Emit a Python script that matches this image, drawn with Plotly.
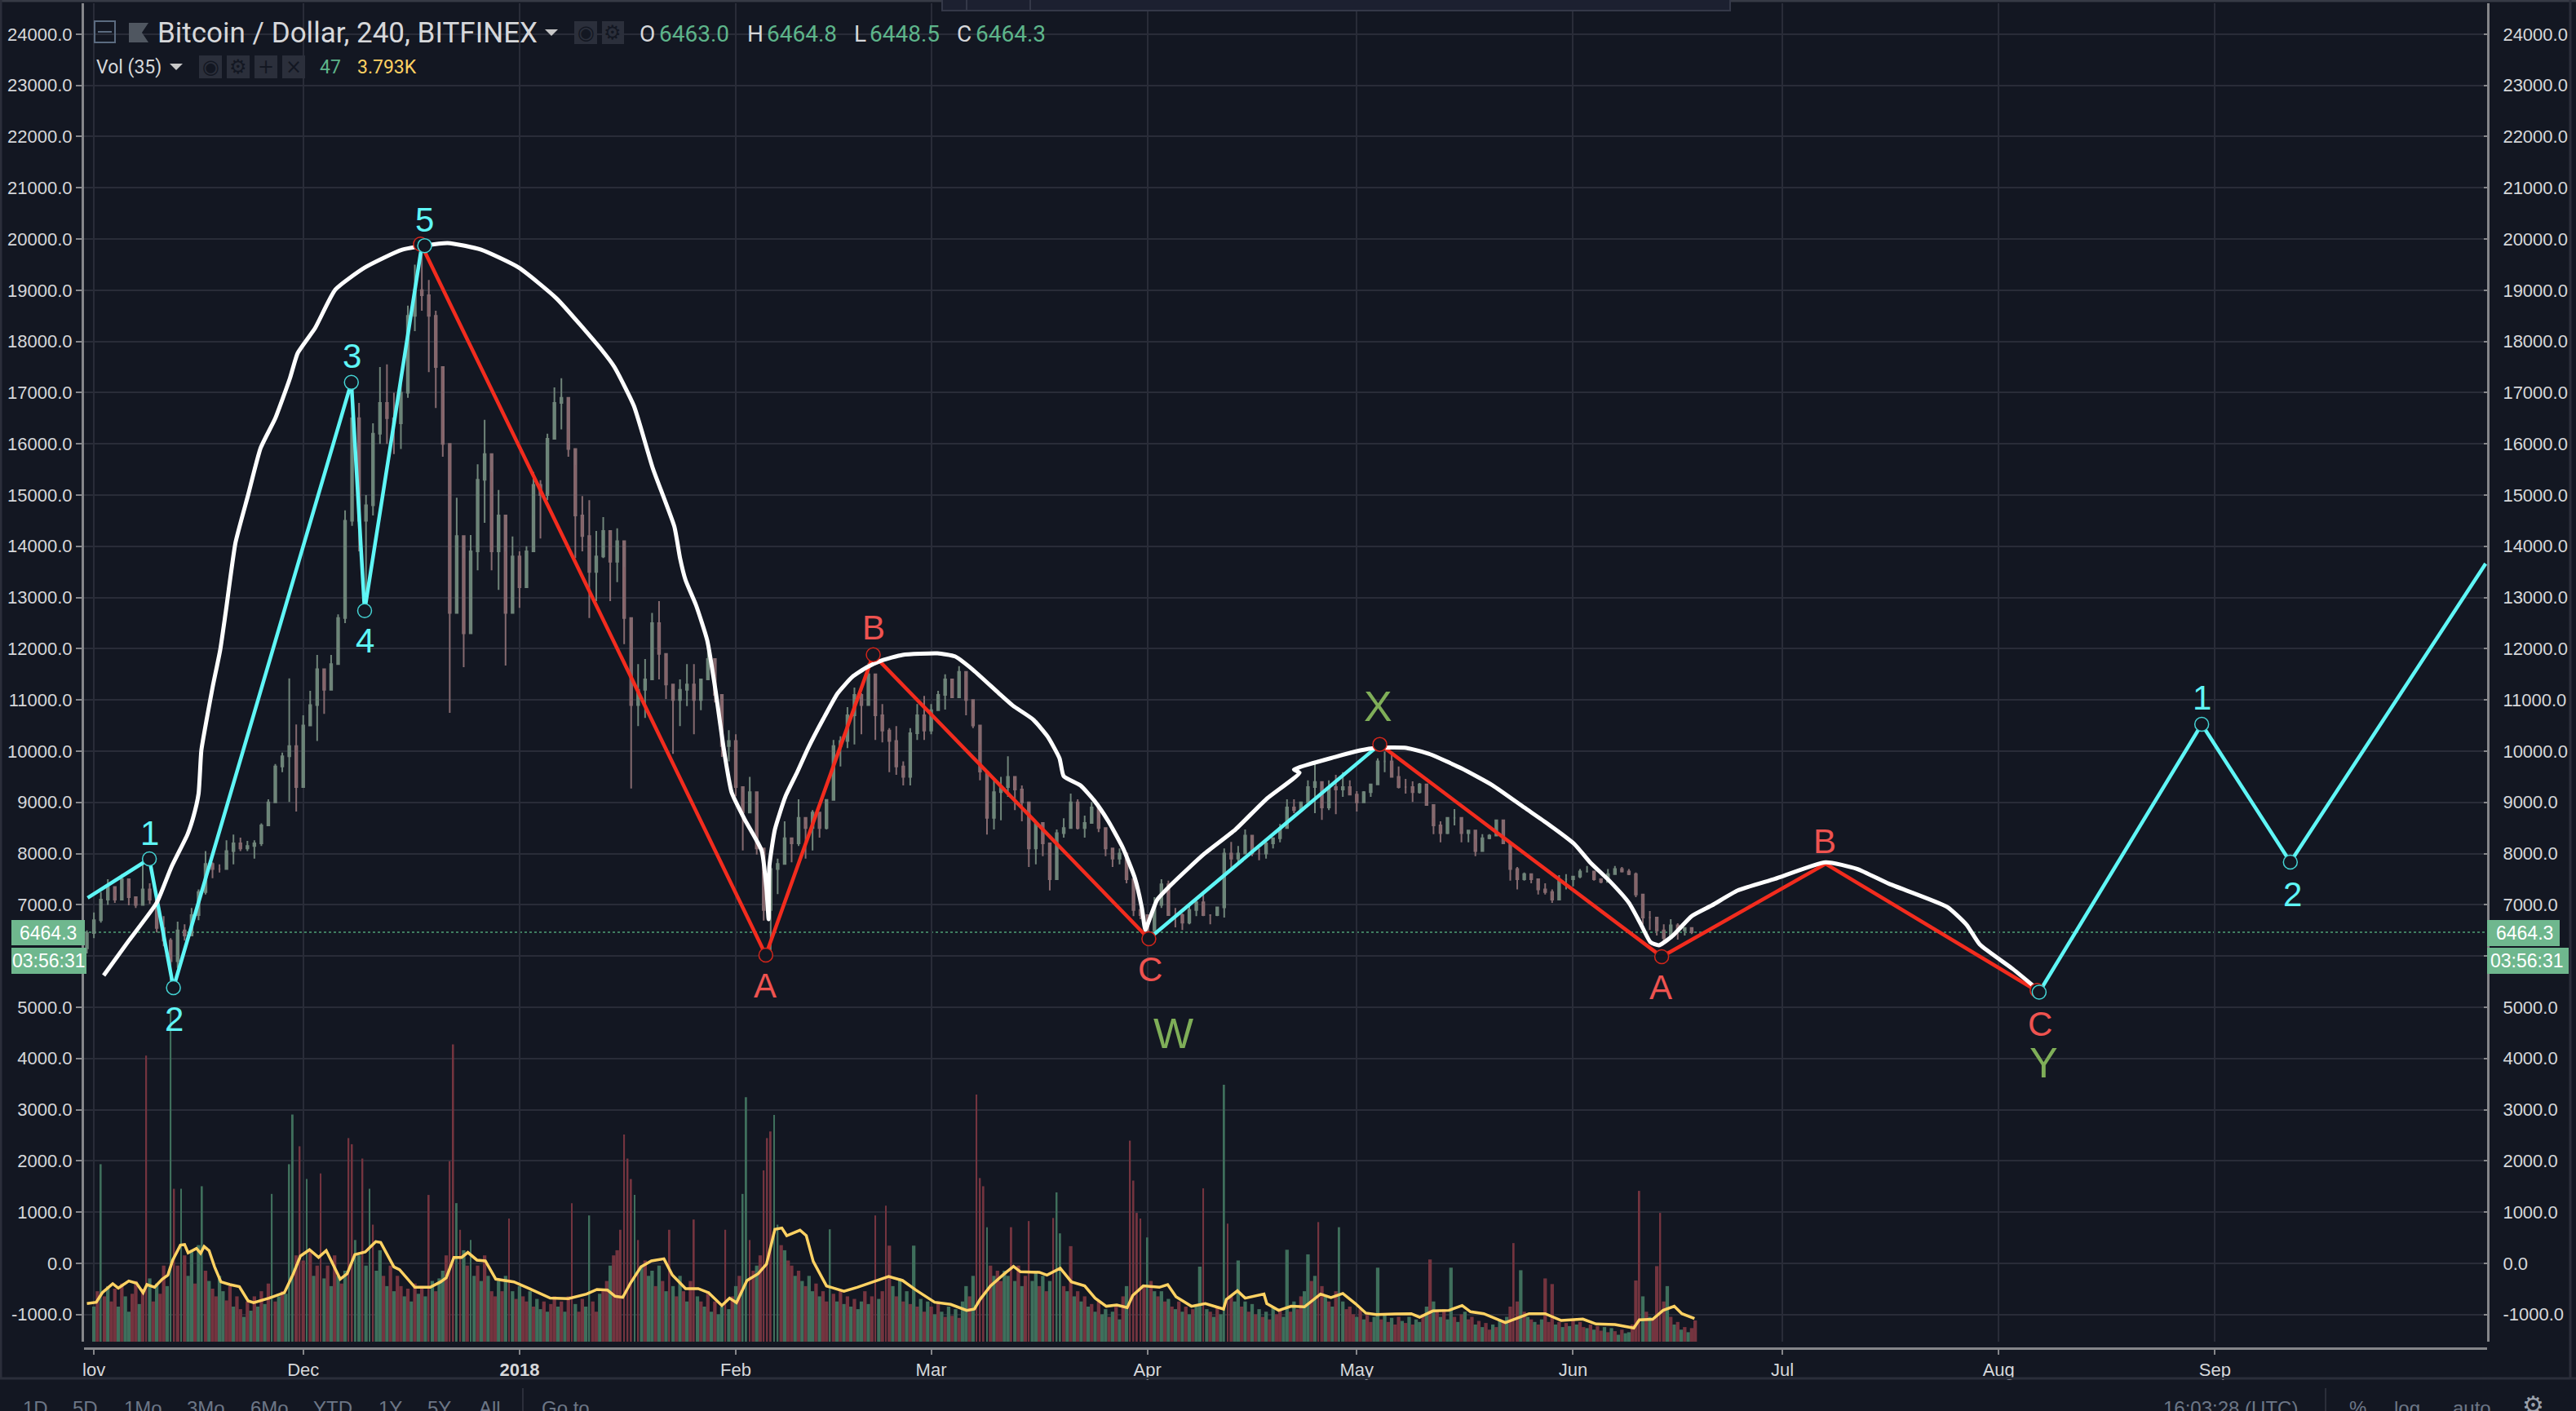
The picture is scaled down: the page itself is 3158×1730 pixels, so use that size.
import pandas as pd
import plotly.graph_objects as go

# Candles, one per day from 31 Oct 2017
candle_start = "2017-10-31"
highs = [6500,
    6850,7250,7500,7310,7600,7360,7150,7790,7420,7150,
    6780,6350,6670,6620,6940,7300,8050,7830,7790,8260,
    8370,8310,8250,8260,8590,9060,9750,9970,11420,10520,
    10700,11180,11880,11600,11880,12670,14700,17200,16800,15000,
    16400,17500,17550,17000,17200,18700,19500,19900,19200,18600,
    17500,16000,14950,13770,14220,15600,16470,15450,15100,13900,
    14190,13900,14000,15450,15290,16200,17100,17280,16280,15590,
    14980,14900,14300,14570,14300,14350,13600,12100,11700,11800,
    12700,12930,11860,11000,11400,11700,11700,11400,12020,11700,
    11020,10410,10330,9200,9500,9200,8060,7750,7900,8630,
    8310,9060,8580,8850,8790,9060,10220,10290,10860,11240,
    11130,11720,11130,10920,10450,10490,9800,10450,10920,11080,
    10920,11180,11500,11400,11660,11450,10860,10130,9540,9430,
    9500,9900,9490,9330,8580,8580,8470,7950,8470,8690,
    9170,9060,8740,9010,8690,8470,8100,8100,7790,7260,
    7200,6780,7150,7500,7470,6940,6830,6990,7150,7200,
    6800,6940,8100,8230,8150,8470,8150,8100,8260,8310,
    8580,9060,9060,9010,9430,9750,9270,9430,9540,9590,
    9430,9220,9220,9330,9860,9990,9970,9700,9460,9410,
    9380,9330,8690,8630,8690,8870,8470,8440,8280,8380,
    8380,8630,8440,7990,7740,7630,7570,7420,7420,7300,
    7580,7600,7520,7700,7760,7630,7520,7700,7760,7740,
    7700,7630,7200,6880,6620,6620,6720,6640,6560,6540]
lows = [6050,
    6350,6650,7000,7040,7360,6990,6940,7020,7020,6460,
    6190,5500,5770,6300,6460,6700,7200,7520,7630,7900,
    7790,8050,8050,7900,8150,8690,9270,9590,9010,8820,
    9430,10600,10200,10730,11450,12200,12500,14400,13900,12800,
    14600,16000,16000,15800,15900,16900,18200,18600,17400,16700,
    15750,10750,13080,11640,13080,13530,14460,13530,13150,11670,
    12770,12800,13230,14600,14150,14900,16280,16280,15750,13770,
    13900,12600,12930,13770,12930,13300,12090,9270,10490,10650,
    11560,11400,11020,9950,10490,10880,10330,10800,11400,10950,
    9890,9800,9120,8060,9040,7980,6690,6070,7210,7790,
    7830,8150,7900,8060,8310,8470,9060,9700,10060,10130,
    10330,11130,10220,10170,9590,9540,9330,9330,10220,10220,
    10330,10810,10810,11080,11180,10700,10450,9430,8370,8470,
    8650,9110,8850,8630,7740,7790,7950,7280,8100,8310,
    8850,8470,8310,8690,8420,7950,7740,7790,7420,6780,
    6720,6400,6460,6940,6880,6560,6510,6620,6780,6780,
    6620,6780,6750,7680,7830,8000,7950,7870,7900,8100,
    8220,8580,8790,8850,9060,8790,8660,8850,8770,9110,
    9170,8820,9010,9110,9430,9590,9590,9270,9170,9010,
    9170,8950,8380,8220,8380,8550,8220,8220,7950,8220,
    8280,8380,8220,7470,7300,7470,7420,7200,7200,7040,
    7300,7300,7360,7520,7630,7470,7420,7520,7630,7630,
    7580,7150,6620,6510,6400,6300,6400,6320,6400,6430]
closes = [6450,
    6700,7100,7350,7100,7500,7150,7000,7300,7100,6550,
    6300,5900,6500,6400,6800,7250,7800,7700,7700,8050,
    8200,8100,8150,8200,8550,9000,9700,9900,10100,9300,
    10500,10900,11600,11200,11700,12600,14500,16500,14500,14800,
    16200,16800,16500,16400,17000,18500,19000,18900,18500,17500,
    16000,12700,14200,12300,13900,15300,15800,13900,14600,12700,
    13800,13200,13900,15200,15000,16100,16800,16900,15900,14600,
    14200,13500,13800,14300,13700,14100,12600,10900,11200,11400,
    12500,11900,11300,11000,11200,11300,11000,11400,11800,11100,
    10100,10200,9300,8800,9200,8100,6900,7700,7800,8300,
    8200,8700,8500,8800,8500,9050,10100,10200,10700,11100,
    10900,11500,10700,10400,10200,9700,9500,10350,10700,10400,
    10800,11100,11400,11050,11550,11000,10500,9600,8700,9200,
    9300,9500,9250,9000,8100,8600,8200,7500,8400,8500,
    9000,8500,8600,8900,8500,8100,7900,8000,7500,6900,
    6800,6500,7000,7400,6800,6800,6650,6900,7050,6800,
    6800,6950,8000,7900,8000,8350,8000,8000,8200,8300,
    8500,8900,8850,9000,9300,9400,8900,9300,9250,9300,
    9150,9000,9200,9350,9800,9800,9500,9300,9300,9200,
    9350,8950,8550,8400,8700,8700,8400,8450,8050,8300,
    8350,8650,8200,7700,7500,7600,7500,7300,7250,7100,
    7500,7500,7550,7650,7650,7500,7450,7600,7700,7650,
    7600,7200,6750,6750,6500,6350,6600,6500,6550,6464.3]
opens = [6150] + closes[:-1]

# Volume bars, two per day from 1 Nov 2017 (height above the bottom of the pane)
vol_start = "2017-11-01"
vol_heights = [
    700,1000,3480,900,1100,800,1050,700,1150,900,600,950,1200,750,1050,5600,1250,800,1150,950,
    1500,1100,6500,3000,1500,3000,1700,1300,1800,1150,1900,3050,1400,1200,1050,900,1300,1000,820,1100,
    700,900,650,500,800,620,900,700,1000,750,1150,2900,800,900,1000,950,3480,4450,1700,3830,
    1600,3190,1800,1300,1500,3300,1250,1500,1100,1700,1300,1150,1400,3990,3870,2000,1700,3590,1500,3000,
    2300,1400,1800,1300,1100,1500,1000,1300,1100,900,1050,800,1150,950,1100,900,2880,1200,1000,1250,
    1400,1700,3540,5820,2720,2200,1800,1500,2000,1300,1500,1200,1700,1300,1000,900,1200,1000,1300,2420,
    1000,850,1100,900,800,1000,700,850,650,800,600,750,900,700,800,600,900,2720,750,600,
    850,700,2480,800,600,950,1000,1200,1500,1700,1800,2200,4060,3590,3190,2880,2000,1500,1600,1300,
    1400,1100,1500,1200,1000,2200,1100,900,1300,1000,800,1200,2400,900,800,700,1000,600,800,550,
    700,2200,650,900,1100,1300,2900,4790,2000,1400,1500,1700,3360,3990,4120,4440,2300,1900,1800,1600,
    1500,1300,1400,1200,1100,1300,1000,1150,900,1000,800,2210,950,800,1000,750,900,700,850,650,
    800,1000,750,900,2480,850,1000,2670,1890,1100,900,1250,800,1000,750,1890,700,850,600,800,
    700,550,800,600,500,700,520,650,480,800,1100,900,1300,4840,3210,3050,2250,1500,1300,1400,
    1200,1400,1300,2250,1200,1500,1100,1300,2370,1200,1400,1100,1300,1000,1200,2430,2930,2130,1100,1000,
    1880,900,1000,800,900,700,750,600,800,550,650,500,600,700,450,900,1100,3940,3160,2530,
    2420,1100,2050,1200,1000,900,1000,800,850,700,650,800,600,700,550,650,750,1480,3010,650,
    600,500,700,550,5030,2320,900,800,1600,700,800,600,750,550,650,500,600,450,700,550,
    650,500,1810,600,800,650,900,1000,1720,1200,1300,2350,1100,900,800,700,1000,2250,800,650,
    700,550,500,650,450,550,400,500,1460,450,550,400,480,350,500,420,380,500,350,450,
    400,550,700,1620,800,600,500,650,450,1460,500,400,550,600,450,500,350,420,300,380,
    250,350,300,450,400,500,700,1940,800,1410,600,500,450,400,350,450,1250,400,1140,350,
    400,300,380,320,450,350,400,300,280,350,250,320,230,300,200,280,220,150,250,180,
    200,350,1210,2960,900,600,500,450,1490,2530,800,1100,500,350,400,250,300,200,280,430]
vol_dirs = ("grgrgrrgrggrrgrrgrgr" "rggrrgrggrggrgrrggrr" "grrgrgrgrgrgrgrgggrr" "rgrgrrgrgrgrgrrggrgg"
            "rggrgrgrrgrgrgrgrgrg" "grrrgrgrggrgrgrrgrgr" "grgrrgrggrgrrgrgrrgr" "rggrrgrrgrrrrrrgrgrg"
            "grgrgrgrgrgrrgrgrgrg" "grgrgrggrrgrrrrggrgr" "rgrgrggrgrrgrgrgrgrg" "grgrrgrrrgrgrgrgrgrg"
            "rgrgrgrgrggrgrrrgrgr" "rggrgrgrrggrgrgrggrg" "rgrgrgrgrggrgrgrgrrr" "rrgrgrgrgrgrgrgrggrg"
            "rgrggrrggrgrgrgrgrgr" "rggrgrrggrgrrgrgrggr" "rrgrgrrggrgrgrrgrgrg" "grgrgrgrggrgrgrrgrgr"
            "rgrgrgrrrgrgrgrgrrrg" "rgrgrgrrgrgrrgrgrgrg" "grrrgrgrrrrgrgrgrgrr")

# Vol (35) average, day = days since 1 Nov 2017
ma_days = [-1,0.34,1.2,2.7,3.5,5,6.1,7.05,7.6,8.7,9.8,10.6,11.3,12.4,13,13.5,14.7,15.3,15.8,16.5,17.3,18.2,
    19.5,20.85,22.1,22.9,25.1,27.3,28.5,29.6,30.9,32.2,33.3,34.1,35.3,36.3,37.4,38.9,40.4,41.1,43,43.8,46,
    48.2,49.7,50.5,51.6,52.7,53.6,54.9,56.1,57.6,60.2,62.4,65.4,68,70.6,72.1,73.6,74.7,75.8,76.9,78.4,79.9,
    81.7,82.9,84.8,86.6,88.1,90,91.1,92.1,93.6,95.2,96.4,97.6,98.6,99.3,101.2,102.1,103.1,105,107.5,109.4,
    111.6,113.9,115.9,117.8,120.5,122.8,125.1,126.2,127,128.5,130.5,131.8,132.8,135.5,136.6,138.5,140.1,142,
    143.5,145.1,146.6,148.1,148.9,150.4,152.7,153.9,155.1,157.3,159.3,161.9,162.3,163.9,165,167.7,168.1,
    169.8,171.6,173.5,175.8,177.3,179,180.8,182.3,183.8,186.5,188.8,190,191.9,194.2,196.1,197.3,199.2,202.3,
    205.7,208,210.3,213.4,215.3,218,220.7,221.5,223.4,224.9,226.5,227.6,229.4]
ma_values = [-785,-760,-573,-398,-483,-345,-387,-573,-414,-467,-308,-228,64,356,367,207,292,197,329,250,-69,-361,
    -414,-456,-732,-769,-679,-573,-228,143,266,117,250,37,-308,-202,170,223,425,409,-69,-122,-467,
    -467,-361,-281,117,117,213,64,48,-308,-361,-493,-679,-690,-600,-509,-520,-642,-663,-387,-69,48,
    90,-228,-493,-493,-573,-823,-679,-769,-334,-202,-16,664,690,541,648,541,37,-441,-546,-467,
    -361,-255,-334,-520,-759,-801,-918,-892,-706,-440,-202,-58,-164,-175,-228,-95,-361,-440,
    -679,-838,-812,-865,-626,-440,-467,-414,-653,-838,-785,-892,-706,-536,-679,-600,-785,
    -918,-838,-849,-600,-669,-589,-785,-971,-998,-987,-982,-1051,-929,-918,-823,-945,-982,-1157,
    -982,-982,-1115,-1088,-1184,-1194,-1263,-1104,-1093,-918,-838,-982,-1077]

# Hand drawn wave legs
cyan_legs = [([-0.9,7.95,11.4,36.9,38.8,47], [7134,7898,5382,17200,12744,19870]),
             ([151.2,184.3], [6338,10133]),
             ([278.8,302.1,314.8,342.8], [5295,10525,7834,13662])]
red_legs = [([47,96.3,111.7,151.2], [19870,6019,11884,6338]),
            ([184.3,224.7,248.2,278.8], [10133,5987,7800,5295])]
cyan_dots_days = [7.95,11.4,36.9,38.8,47.4,278.8,302.1,314.8]
cyan_dots_values = [7898,5382,17200,12744,19870,5295,10525,7834]
red_dots_days = [46.8,96.3,111.7,151.2,184.3,224.7,278.5]
red_dots_values = [19900,6019,11884,6338,10133,5987,5330]

# White freehand curve
curve_days = [1.4,5,9,11.1,13.4,14.2,15,15.4,16.2,17,18.1,18.9,20.3,22.1,23.9,26,28.1,29.2,31.7,34.6,38.8,44.2,
    50.7,55.5,60.9,66.3,72.8,74.6,77.4,80.1,83.2,84,84.8,86.3,87.9,89.1,90.2,91.4,93.3,95.7,96.4,96.7,96.8,
    97.6,99.1,100.8,102.4,104.5,106.6,108.7,110.8,112.9,115.9,120.9,123.4,125.8,129.7,131.7,134.6,136.7,138.4,
    139,141.4,143.4,145.4,147.5,149.2,150.2,150.7,151.3,152.4,154.6,159.1,163.6,168,172.8,172,178,181.5,183.7,
    188.1,191.5,196,200.5,205,208.4,212.2,214.4,217.2,220,221.7,223.1,224.3,226.3,229,231.9,235.6,240.9,248.2,
    252.7,257.3,265.6,268.4,270.3,275,278.7]
curve_values = [5621,6300,7040,7736,8370,8690,9170,10015,10650,11240,11975,12720,14075,15000,15920,16500,17280,
    17770,18260,19010,19440,19790,19920,19790,19440,18840,17830,17500,16740,15525,14380,13775,13340,12850,12165,
    11180,10110,9195,8660,8060,7300,6720,7740,8470,9110,9590,10070,10620,11130,11450,11640,11770,11880,11910,
    11850,11610,11130,10890,10620,10285,9860,9510,9330,9030,8630,8105,7520,6940,6510,6720,7100,7420,7990,8470,
    9060,9580,9640,9890,10015,10065,10065,9940,9665,9330,8900,8580,8185,7835,7470,7040,6625,6270,6210,6400,6780,
    6990,7280,7505,7830,7700,7410,6960,6610,6225,5750,5335]

last_price = 6464.3

# Axes (the 6000 label is hidden behind the price boxes in the original)
y_ticks = [24000,23000,22000,21000,20000,19000,18000,17000,16000,15000,14000,13000,12000,11000,10000,
           9000,8000,7000,6000,5000,4000,3000,2000,1000,0,-1000]
y_labels = ["24000.0","23000.0","22000.0","21000.0","20000.0","19000.0","18000.0","17000.0","16000.0","15000.0",
            "14000.0","13000.0","12000.0","11000.0","10000.0","9000.0","8000.0","7000.0","","5000.0",
            "4000.0","3000.0","2000.0","1000.0","0.0","-1000.0"]
x_ticks = ["2017-11-01","2017-12-01","2018-01-01","2018-02-01","2018-03-01","2018-04-01","2018-05-01",
           "2018-06-01","2018-07-01","2018-08-01","2018-09-01"]
x_labels = ["lov","Dec","<b>2018</b>","Feb","Mar","Apr","May","Jun","Jul","Aug","Sep"]

# Colours
BG = "#131722"
GRID = "#292c38"
AXIS = "#85868a"
TEXT = "#d6d7da"
CYAN = "#5ff6f6"
RED = "#f22c1e"
LABEL_RED = "#ef5350"
LABEL_GREEN = "#7fae58"
YELLOW = "#ffd263"
GREEN = "#6fb78e"
VALUE_GREEN = "#5db48a"
MUTED = "#6c7686"
BUTTON = "#2b2f3b"

W, H = 3158, 1730
L, R, T, B = 103, 3049, 4, 1653
DAY_MS = 86400000


def to_dates(days):
    return pd.Timestamp("2017-11-01") + pd.to_timedelta(days, unit="D")


def px(x):
    return (x - L) / (R - L)


def py(y):
    return (B - y) / (B - T)


fig = go.Figure()

# tall spikes are hairlines in the original, the low bars run together
fig.add_trace(go.Bar(
    x=pd.date_range(vol_start, periods=len(vol_heights), freq="12h"),
    y=vol_heights, base=-1544,
    width=[0.22 * DAY_MS if h > 1900 else 0.5 * DAY_MS for h in vol_heights],
    marker=dict(color=["#3f6f5c" if d == "g" else "#74343f" for d in vol_dirs], line_width=0),
    hoverinfo="skip"))

fig.add_trace(go.Scatter(x=to_dates(ma_days), y=ma_values, mode="lines",
                         line=dict(color=YELLOW, width=3.5), hoverinfo="skip"))

fig.add_trace(go.Candlestick(
    x=pd.date_range(candle_start, periods=len(closes), freq="D"),
    open=opens, high=highs, low=lows, close=closes,
    whiskerwidth=0,
    increasing=dict(line=dict(color="#6f8479", width=2), fillcolor="#5b8a75"),
    decreasing=dict(line=dict(color="#856a6f", width=2), fillcolor="#8a4e56"),
    hoverinfo="skip"))

for days, values in red_legs:
    fig.add_trace(go.Scatter(x=to_dates(days), y=values, mode="lines",
                             line=dict(color=RED, width=4.5), hoverinfo="skip"))
for days, values in cyan_legs:
    fig.add_trace(go.Scatter(x=to_dates(days), y=values, mode="lines",
                             line=dict(color=CYAN, width=4.5), hoverinfo="skip"))

fig.add_trace(go.Scatter(x=to_dates(curve_days), y=curve_values, mode="lines",
                         line=dict(color="#ffffff", width=5, shape="spline", smoothing=0.5), hoverinfo="skip"))

fig.add_trace(go.Scatter(x=to_dates(red_dots_days), y=red_dots_values, mode="markers",
                         marker=dict(size=17, color=BG, line=dict(color="#d3261b", width=1.5)), hoverinfo="skip"))
fig.add_trace(go.Scatter(x=to_dates(cyan_dots_days), y=cyan_dots_values, mode="markers",
                         marker=dict(size=17, color=BG, line=dict(color="#45d4d4", width=1.5)), hoverinfo="skip"))

# needed so the right hand price axis gets drawn
fig.add_trace(go.Scatter(x=to_dates([0]), y=[0], yaxis="y2", mode="markers", opacity=0, hoverinfo="skip"))

shapes = [
    # last price line
    dict(type="line", xref="paper", yref="y", x0=0, x1=1, y0=last_price, y1=last_price,
         line=dict(color="#3f7d60", width=2, dash="dot"), layer="below"),
    # frame and toolbar separators
    dict(type="line", xref="paper", yref="paper", x0=px(0), x1=px(W), y0=py(1690), y1=py(1690),
         line=dict(color="#2b2e3a", width=3)),
    dict(type="line", xref="paper", yref="paper", x0=px(0), x1=px(W), y0=py(1), y1=py(1),
         line=dict(color="#363a45", width=3)),
    dict(type="line", xref="paper", yref="paper", x0=px(1), x1=px(1), y0=py(0), y1=py(1690),
         line=dict(color="#2b2e3a", width=3)),
    dict(type="line", xref="paper", yref="paper", x0=px(3151), x1=px(3151), y0=py(0), y1=py(1690),
         line=dict(color="#2b2e3a", width=3)),
    dict(type="line", xref="paper", yref="paper", x0=px(641), x1=px(641), y0=py(1702), y1=py(1730),
         line=dict(color="#2b2e3a", width=2)),
    dict(type="line", xref="paper", yref="paper", x0=px(2851), x1=px(2851), y0=py(1702), y1=py(1730),
         line=dict(color="#2b2e3a", width=2)),
    # drawing toolbar sticking in from the top
    dict(type="rect", xref="paper", yref="paper", x0=px(1155), x1=px(2121), y0=py(-2), y1=py(13),
         fillcolor="#1c2030", line=dict(color="#343848", width=2)),
    dict(type="line", xref="paper", yref="paper", x0=px(1185), x1=px(1185), y0=py(0), y1=py(13),
         line=dict(color="#343848", width=2)),
    dict(type="line", xref="paper", yref="paper", x0=px(1263), x1=px(1263), y0=py(0), y1=py(13),
         line=dict(color="#343848", width=2)),
    # price boxes
    dict(type="rect", xref="paper", yref="paper", x0=px(14), x1=px(104), y0=py(1128), y1=py(1159),
         fillcolor=GREEN, line_width=0),
    dict(type="rect", xref="paper", yref="paper", x0=px(14), x1=px(106), y0=py(1162), y1=py(1194),
         fillcolor=GREEN, line_width=0),
    dict(type="rect", xref="paper", yref="paper", x0=px(3049), x1=px(3138), y0=py(1128), y1=py(1160),
         fillcolor=GREEN, line_width=0),
    dict(type="rect", xref="paper", yref="paper", x0=px(3049), x1=px(3149), y0=py(1162), y1=py(1194),
         fillcolor=GREEN, line_width=0),
    # header collapse button
    dict(type="rect", xref="paper", yref="paper", x0=px(116), x1=px(141), y0=py(26), y1=py(52),
         line=dict(color="#5b6b80", width=2)),
    dict(type="line", xref="paper", yref="paper", x0=px(120), x1=px(137), y0=py(39), y1=py(39),
         line=dict(color="#5b6b80", width=2)),
]


def poly(points, color):
    path = "M " + " L ".join(f"{px(a):.5f},{py(b):.5f}" for a, b in points) + " Z"
    return dict(type="path", xref="paper", yref="paper", path=path, fillcolor=color, line_width=0)


shapes.append(poly([(158, 28), (182, 28), (174, 40), (182, 52), (158, 52)], "#4f5660"))
shapes.append(poly([(668, 36), (684, 36), (676, 44)], "#c8c8c8"))
shapes.append(poly([(208, 78), (224, 78), (216, 86)], "#c8c8c8"))
for x0, x1, y0, y1 in [(704, 732, 26, 54), (738, 765, 26, 54), (244, 272, 68, 96),
                       (278, 306, 68, 96), (312, 340, 68, 96), (346, 374, 68, 96)]:
    shapes.append(dict(type="rect", xref="paper", yref="paper", x0=px(x0), x1=px(x1), y0=py(y0), y1=py(y1),
                       fillcolor=BUTTON, line_width=0))

notes = []


def note(text, x, y, size, color, anchor="center", family="Liberation Sans"):
    notes.append(dict(text=text, x=px(x), y=py(y), xref="paper", yref="paper", showarrow=False,
                      xanchor=anchor, yanchor="middle", font=dict(family=family, size=size, color=color)))


# wave labels
for text, x, y in [("1", 183, 1021), ("2", 213, 1249), ("3", 431, 437), ("4", 447, 785), ("5", 520, 270),
                   ("1", 2699, 856), ("2", 2810, 1096)]:
    note(text, x, y, 42, CYAN)
for text, x, y in [("A", 938, 1208), ("B", 1071, 769), ("C", 1410, 1188), ("A", 2036, 1210),
                   ("B", 2237, 1031), ("C", 2501, 1255)]:
    note(text, x, y, 42, LABEL_RED)
for text, x, y in [("W", 1438, 1267), ("X", 1690, 866), ("Y", 2505, 1303)]:
    note(text, x, y, 52, LABEL_GREEN)

# header
note("Bitcoin / Dollar, 240, BITFINEX", 191, 40, 35, TEXT, "left", "Roboto")
note("O", 782, 41, 28, TEXT, "left", "Roboto")
note("6463.0", 806, 41, 28, VALUE_GREEN, "left", "Roboto")
note("H", 914, 41, 28, TEXT, "left", "Roboto")
note("6464.8", 938, 41, 28, VALUE_GREEN, "left", "Roboto")
note("L", 1045, 41, 28, TEXT, "left", "Roboto")
note("6448.5", 1064, 41, 28, VALUE_GREEN, "left", "Roboto")
note("C", 1171, 41, 28, TEXT, "left", "Roboto")
note("6464.3", 1194, 41, 28, VALUE_GREEN, "left", "Roboto")
note("Vol (35)", 116, 82, 23, TEXT, "left", "Roboto")
note("47", 390, 82, 23, VALUE_GREEN, "left", "Roboto")
note("3.793K", 436, 82, 23, YELLOW, "left", "Roboto")
for text, x, y in [("◉", 718, 40), ("⚙", 751, 40), ("◉", 258, 82), ("⚙", 292, 82), ("+", 326, 82), ("×", 360, 82)]:
    note(text, x, y, 24, BG, family="DejaVu Sans")

# price boxes
note("6464.3", 59, 1144, 23, "#ffffff")
note("03:56:31", 60, 1178, 23, "#ffffff")
note("6464.3", 3095, 1144, 23, "#ffffff")
note("03:56:31", 3098, 1178, 23, "#ffffff")

# bottom toolbar, cut by the edge of the window
for text, x in [("1D", 43), ("5D", 104), ("1Mo", 175), ("3Mo", 252), ("6Mo", 330), ("YTD", 408), ("1Y", 478),
                ("5Y", 538), ("All", 600), ("Go to...", 703), ("16:03:28 (UTC)", 2734), ("%", 2890), ("log", 2951),
                ("auto", 3030)]:
    note(text, x, 1726, 24, MUTED)
note("⚙", 3106, 1722, 30, "#9aa0ab", family="DejaVu Sans")

tick_font = dict(family="Liberation Sans", size=22, color=TEXT)

fig.update_layout(
    width=W, height=H,
    margin=dict(l=L, r=W - R, t=T, b=H - B, autoexpand=False),
    paper_bgcolor=BG, plot_bgcolor=BG,
    showlegend=False, hovermode=False, barmode="overlay", boxgap=0.6,
    shapes=shapes, annotations=notes,
    xaxis=dict(type="date", range=["2017-10-30 14:00", "2018-10-10 00:00"], rangeslider=dict(visible=False),
               tickmode="array", tickvals=x_ticks, ticktext=x_labels, tickangle=0,
               tickfont=tick_font, ticks="outside", ticklen=6, tickwidth=2, tickcolor=AXIS,
               showgrid=True, gridcolor=GRID, gridwidth=2, zeroline=False,
               showline=True, linecolor=AXIS, linewidth=3,
               anchor="free", position=0),
    yaxis=dict(range=[-1529, 24602], domain=[8 / (B - T), 1],
               tickmode="array", tickvals=y_ticks, ticktext=y_labels,
               tickfont=tick_font, ticks="outside", ticklen=7, tickwidth=2, tickcolor=AXIS,
               showgrid=True, gridcolor=GRID, gridwidth=2, zeroline=False,
               showline=True, linecolor=AXIS, linewidth=3),
    yaxis2=dict(range=[-1529, 24602], overlaying="y", side="right", anchor="x",
                tickmode="array", tickvals=y_ticks, ticktext=y_labels,
                tickfont=tick_font, ticks="inside", ticklen=4, tickwidth=2, tickcolor=AXIS,
                ticklabelstandoff=12,
                showgrid=False, zeroline=False, showline=True, linecolor=AXIS, linewidth=3),
)

fig.write_html("out.html", config={"displayModeBar": False}, post_script="document.body.style.margin='0';")
